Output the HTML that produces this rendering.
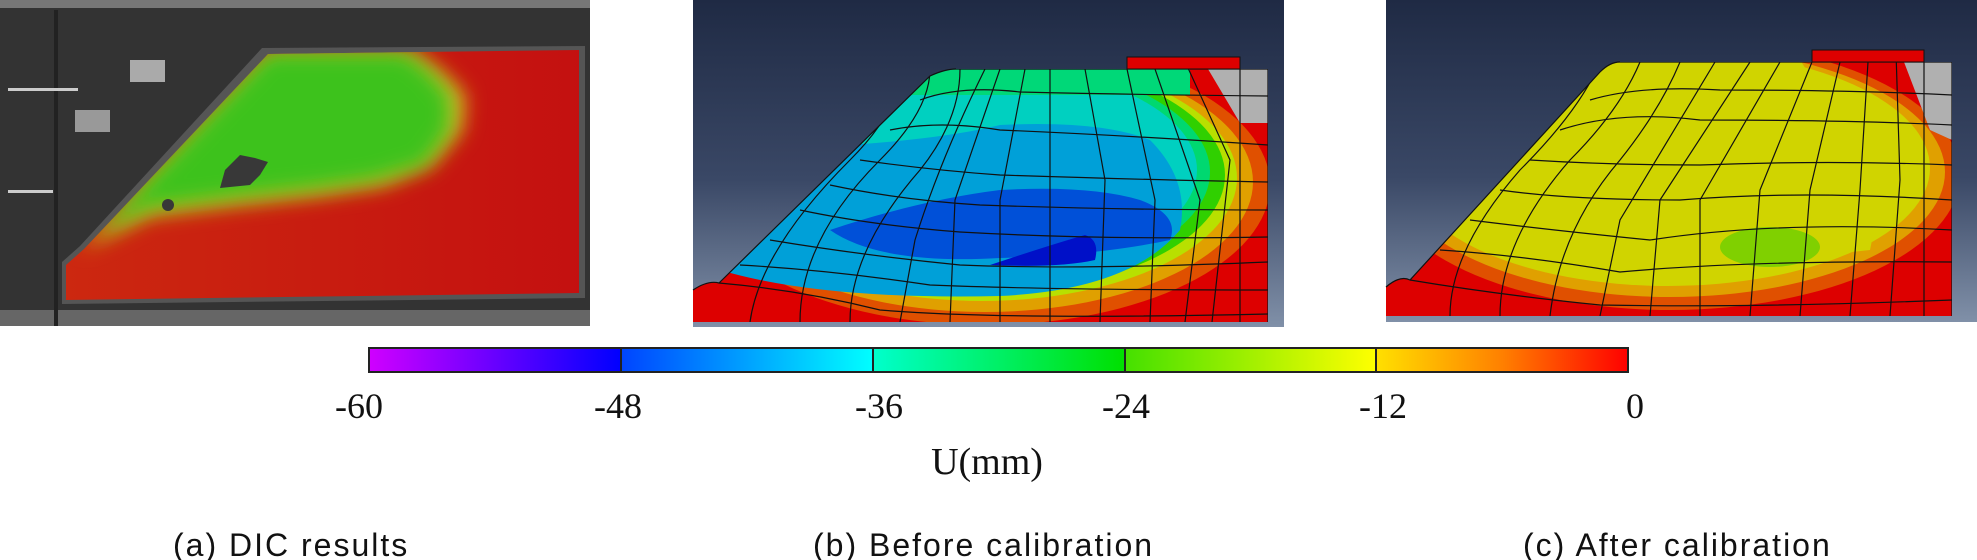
<!DOCTYPE html>
<html><head><meta charset="utf-8"><style>
html,body{margin:0;padding:0;background:#fff;width:1977px;height:560px;overflow:hidden}
svg{display:block}
</style></head><body>
<svg width="1977" height="560" viewBox="0 0 1977 560" xmlns="http://www.w3.org/2000/svg">
<defs>
<linearGradient id="bg" x1="0" y1="0" x2="0" y2="1">
<stop offset="0" stop-color="#1f2a44"/><stop offset="0.55" stop-color="#3a4866"/><stop offset="1" stop-color="#8090a8"/>
</linearGradient>
<linearGradient id="cb" x1="0" y1="0" x2="1" y2="0">
<stop offset="0" stop-color="#d000ff"/><stop offset="0.2" stop-color="#0000ff"/>
<stop offset="0.2" stop-color="#0044ff"/><stop offset="0.4" stop-color="#00ffff"/>
<stop offset="0.4" stop-color="#00ffcc"/><stop offset="0.6" stop-color="#00e000"/>
<stop offset="0.6" stop-color="#44e000"/><stop offset="0.8" stop-color="#ffff00"/>
<stop offset="0.8" stop-color="#ffe000"/><stop offset="0.9" stop-color="#ff8000"/><stop offset="1" stop-color="#ff0000"/>
</linearGradient>
<linearGradient id="agrad" x1="0" y1="0" x2="1" y2="0">
<stop offset="0" stop-color="#cc2810"/><stop offset="1" stop-color="#c41010"/>
</linearGradient>
<filter id="blur"><feGaussianBlur stdDeviation="10"/></filter>
<clipPath id="ca"><polygon points="268,54 579,50 579,293 66,300 66,265 84,249"/></clipPath>
<clipPath id="cbp"><path d="M693,290 Q708,280 719,283 L930,76 Q945,69 956,69 L1268,69 L1268,322 L693,322 Z"/></clipPath>
<clipPath id="ccp"><path d="M1386,287 Q1400,275 1410,280 L1600,72 Q1610,62 1620,62 L1952,62 L1952,316 L1386,316 Z"/></clipPath>
</defs>

<!-- Panel a -->
<rect x="0" y="0" width="590" height="326" fill="#333"/>
<rect x="0" y="0" width="590" height="8" fill="#777"/>
<rect x="0" y="310" width="590" height="16" fill="#666"/>
<rect x="54" y="10" width="4" height="316" fill="#222"/>
<rect x="130" y="60" width="35" height="22" fill="#aaa"/>
<rect x="75" y="110" width="35" height="22" fill="#999"/>
<rect x="8" y="88" width="70" height="3" fill="#ccc"/>
<rect x="8" y="190" width="45" height="3" fill="#ccc"/>
<polygon points="262,48 585,46 585,298 62,304 62,262 80,246" fill="#555"/>
<g clip-path="url(#ca)">
<rect x="60" y="40" width="530" height="270" fill="url(#agrad)"/>
<path d="M80,250 L268,50 L410,50 L440,70 L465,95 L462,130 L432,165 L385,185 L320,195 L230,205 L150,215 L100,240 Z" fill="#d6c020" filter="url(#blur)"/>
<path d="M90,240 L268,52 L405,52 L428,70 L450,95 L450,130 L425,165 L375,180 L320,188 L230,198 L150,208 L105,230 Z" fill="#3cc21c" filter="url(#blur)"/>
<path d="M225,170 L240,155 L255,158 L268,162 L260,175 L250,185 L220,188 Z" fill="#383838"/>
<circle cx="168" cy="205" r="6" fill="#383838"/>
</g>

<!-- Panel b -->
<rect x="693" y="0" width="591" height="327" fill="url(#bg)"/>
<g clip-path="url(#cbp)">
<rect x="690" y="60" width="580" height="270" fill="#dd0000"/>
<ellipse cx="985" cy="185" rx="285" ry="140" fill="#e05000"/>
<ellipse cx="985" cy="182" rx="268" ry="130" fill="#e0a000"/>
<ellipse cx="982" cy="178" rx="255" ry="123" fill="#b8e000"/>
<ellipse cx="980" cy="175" rx="245" ry="118" fill="#30d000"/>
<ellipse cx="978" cy="172" rx="232" ry="112" fill="#00d870"/>
<ellipse cx="975" cy="170" rx="222" ry="106" fill="#00d0c0"/>
<rect x="690" y="60" width="500" height="35" fill="#00d878"/>
<path d="M720,270 Q820,300 1000,296 Q1130,290 1180,230 Q1190,180 1150,140 Q1100,120 1000,125 Q920,145 740,150 L700,240 Z" fill="#00a0d8"/>
<path d="M830,230 Q880,265 1000,258 Q1100,255 1170,240 Q1180,215 1140,200 Q1090,185 1000,190 Q920,200 830,230 Z" fill="#0050d8"/>
<path d="M990,265 Q1060,268 1095,260 Q1100,240 1085,235 Q1050,245 990,265 Z" fill="#0010c8"/>
<polygon points="1208,69 1268,69 1268,123 1240,123" fill="#b0b0b0"/>
<g stroke="#111" stroke-width="1.2" fill="none">
<path d="M719,283 Q800,290 880,310 Q1000,320 1268,314"/>
<path d="M740,265 Q830,270 930,285 Q1050,290 1268,290"/>
<path d="M770,240 Q860,255 960,265 Q1080,270 1268,262"/>
<path d="M800,210 Q870,225 960,232 Q1100,240 1268,237"/>
<path d="M830,185 Q900,200 980,205 Q1120,210 1268,210"/>
<path d="M860,160 Q930,170 1000,175 Q1150,180 1268,182"/>
<path d="M890,130 Q940,120 1000,130 Q1120,135 1268,145"/>
<path d="M920,100 Q960,85 1020,92 Q1150,95 1268,96"/>
<path d="M750,322 Q760,250 850,160 Q900,110 900,69"/>
<path d="M800,322 Q800,240 880,160 Q930,110 930,69"/>
<path d="M850,322 Q850,250 920,170 Q960,120 960,69"/>
<path d="M900,322 L915,240 Q940,160 985,69"/>
<path d="M950,322 L955,200 L1000,69"/>
<path d="M1000,322 L1000,200 L1025,69"/>
<path d="M1050,322 L1050,180 L1050,69"/>
<path d="M1100,322 L1105,180 L1085,69"/>
<path d="M1150,322 L1155,200 L1127,69"/>
<path d="M1185,322 L1200,200 L1155,69"/>
<path d="M1212,322 L1230,160 L1183,57"/>
<path d="M1240,322 L1240,57"/>
<line x1="1268" y1="69" x2="1268" y2="322"/>
<line x1="956" y1="69" x2="1268" y2="69"/>
</g>
</g>
<path d="M693,290 Q708,280 719,283 L930,76 Q945,69 956,69" stroke="#111" fill="none" stroke-width="1.2"/>
<rect x="1127" y="57" width="113" height="12" fill="#dd0000" stroke="#111" stroke-width="1"/>

<!-- Panel c -->
<rect x="1386" y="0" width="591" height="322" fill="url(#bg)"/>
<g clip-path="url(#ccp)">
<rect x="1380" y="55" width="580" height="270" fill="#dd0000"/>
<ellipse cx="1670" cy="175" rx="290" ry="135" fill="#e05000"/>
<ellipse cx="1670" cy="172" rx="275" ry="125" fill="#e0a000"/>
<ellipse cx="1668" cy="168" rx="262" ry="118" fill="#d0d400"/>
<path d="M1380,60 L1800,60 Q1840,120 1880,200 L1870,250 Q1700,270 1550,240 L1450,215 Z" fill="#d0d400"/>
<ellipse cx="1770" cy="247" rx="50" ry="20" fill="#80d000"/>
<polygon points="1904,62 1952,62 1952,140 1930,130" fill="#b0b0b0"/>
<g stroke="#111" stroke-width="1.2" fill="none">
<path d="M1410,280 Q1500,295 1600,305 Q1750,308 1952,300"/>
<path d="M1440,250 Q1520,255 1620,272 Q1750,260 1952,262"/>
<path d="M1470,220 Q1550,230 1650,240 Q1780,220 1952,230"/>
<path d="M1500,190 Q1570,200 1680,200 Q1800,190 1952,200"/>
<path d="M1530,160 Q1610,165 1700,165 Q1830,160 1952,165"/>
<path d="M1560,130 Q1620,110 1700,120 Q1850,120 1952,125"/>
<path d="M1590,100 Q1640,85 1720,90 Q1850,90 1952,95"/>
<path d="M1450,316 Q1450,250 1520,170 Q1580,110 1600,62"/>
<path d="M1500,316 Q1500,240 1570,160 Q1620,110 1640,62"/>
<path d="M1550,316 Q1560,230 1620,160 Q1660,110 1680,62"/>
<path d="M1600,316 L1620,220 L1715,62"/>
<path d="M1650,316 L1660,200 L1750,62"/>
<path d="M1700,316 L1700,200 L1780,62"/>
<path d="M1750,316 L1760,190 L1812,62"/>
<path d="M1800,316 L1810,190 L1840,62"/>
<path d="M1850,316 L1860,190 L1868,62"/>
<path d="M1890,316 L1900,180 L1896,52"/>
<path d="M1924,316 L1924,52"/>
<line x1="1952" y1="62" x2="1952" y2="316"/>
<line x1="1620" y1="62" x2="1952" y2="62"/>
</g>
</g>
<path d="M1386,287 Q1400,275 1410,280 L1600,72 Q1610,62 1620,62" stroke="#111" fill="none" stroke-width="1.2"/>
<rect x="1812" y="50" width="112" height="12" fill="#dd0000" stroke="#111" stroke-width="1"/>

<!-- colorbar -->
<rect x="369" y="348" width="1259" height="24" fill="url(#cb)" stroke="#222" stroke-width="2"/>
<g stroke="#222" stroke-width="2">
<line x1="621" y1="348" x2="621" y2="372"/><line x1="873" y1="348" x2="873" y2="372"/>
<line x1="1125" y1="348" x2="1125" y2="372"/><line x1="1376" y1="348" x2="1376" y2="372"/>
</g>
<g font-family="Liberation Serif, serif" font-size="36" fill="#111" text-anchor="middle">
<text x="359" y="418">-60</text><text x="618" y="418">-48</text><text x="879" y="418">-36</text>
<text x="1126" y="418">-24</text><text x="1383" y="418">-12</text><text x="1635" y="418">0</text>
<text x="987" y="474" font-size="38">U(mm)</text>
</g>
<g font-family="Liberation Sans, sans-serif" font-size="32" fill="#111" letter-spacing="2">
<text x="173" y="556">(a) DIC results</text>
<text x="813" y="556">(b) Before calibration</text>
<text x="1523" y="556">(c) After calibration</text>
</g>
</svg>
</body></html>
